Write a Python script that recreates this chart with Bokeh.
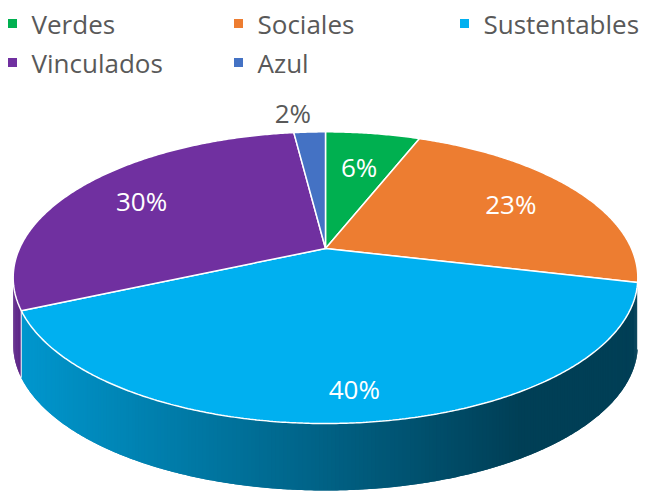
import numpy as np
from bokeh.plotting import figure
from bokeh.models import Range1d
from bokeh.embed import file_html
from bokeh.resources import INLINE
from bokeh.core.properties import value

# ---- data ----
categories = ["Verdes", "Sociales", "Sustentables", "Vinculados", "Azul"]
shares = [6, 23, 40, 30, 2]
labels = ["6%", "23%", "40%", "30%", "2%"]
colors = ["#00B050", "#ED7D31", "#00B0F0", "#7030A0", "#4472C4"]

# ---- layout / style ----
W, H = 649, 492
CX, CY, A, B, K, DEPTH = 325, 248, 306, 140, 0.2, 67
label_r = [0.67, 0.73, 0.84, 0.74, 1.2]
FONT = "Open Sans"

p = figure(width=W, height=H, x_range=Range1d(0, W), y_range=Range1d(H, 0),
           output_backend="svg", toolbar_location=None, min_border=0,
           x_axis_location=None, y_axis_location=None)
p.grid.visible = False
p.outline_line_color = None


def proj(theta, r=1.0):
    u = r * np.sin(theta)
    v = -r * np.cos(theta)
    d = 1 - K * v
    return CX + A * u / d, CY + B * v / d


def hex2rgb(h):
    h = h.lstrip("#")
    return [int(h[i:i + 2], 16) for i in (0, 2, 4)]


def shade(h, f):
    r, g, b = hex2rgb(h)
    return "#%02x%02x%02x" % tuple(int(max(0, min(255, c * f))) for c in (r, g, b))


fr = np.array(shares, dtype=float) / sum(shares)
ends = np.cumsum(fr) * 2 * np.pi
starts = ends - fr * 2 * np.pi

# ---- side (visible front part) ----
thR = np.arccos(-K)
thL = 2 * np.pi - thR
sx, sy, sc = [], [], []
edge_x, edge_y = [], []
step = np.radians(0.6)
for s, e, c in zip(starts, ends, colors):
    a0, a1 = max(s, thR), min(e, thL)
    if a1 <= a0:
        continue
    n = max(2, int((a1 - a0) / step) + 1)
    ths = np.linspace(a0, a1, n)
    for i in range(len(ths) - 1):
        ta = ths[i]
        tb = ths[min(i + 2, len(ths) - 1)]
        xm = proj(0.5 * (ths[i] + ths[i + 1]))[0]
        f = max(0.36, 0.86 - 0.5 * (xm - 20) / 500)
        col = shade(c, f)
        arc = np.linspace(ta, tb, 4)
        ax, ay = proj(arc)
        sx.append(list(ax) + list(ax[::-1]))
        sy.append(list(ay) + list(ay[::-1] + DEPTH))
        sc.append(col)
    for t in (s, e):
        if thR < t < thL:
            x0, y0 = proj(t)
            edge_x.append([x0, x0])
            edge_y.append([y0, y0 + DEPTH])

p.patches(sx, sy, fill_color=sc, line_color=None)
if edge_x:
    p.multi_line(edge_x, edge_y, line_color="white", line_width=1.0, line_alpha=0.6)

# ---- top slices ----
tx, ty = [], []
for s, e in zip(starts, ends):
    n = max(3, int((e - s) / np.radians(0.5)) + 1)
    ths = np.linspace(s, e, n)
    xs, ys = proj(ths)
    tx.append([CX] + list(xs))
    ty.append([CY] + list(ys))
p.patches(tx, ty, fill_color=colors, line_color="white", line_width=1.5)

# ---- data labels ----
for s, e, lab, r in zip(starts, ends, labels, label_r):
    m = 0.5 * (s + e)
    lx, ly = proj(m, r)
    outside = r > 1
    align = "center"
    if outside:
        align = "right" if np.sin(m) < 0 else "left"
        lx = lx + (4 if align == "right" else -4)
    p.text([lx], [ly], text=[lab], text_font=value(FONT), text_font_size="26px",
           text_color="#595959" if outside else "white",
           text_align=align, text_baseline="middle")

# ---- legend ----
leg_cols = [12, 238, 464]
leg_rows = [23, 62]
for i, (cat, c) in enumerate(zip(categories, colors)):
    lx = leg_cols[i % 3]
    ly = leg_rows[i // 3]
    p.rect([lx], [ly], width=9, height=9, fill_color=c, line_color=None)
    p.text([lx + 19], [ly], text=[cat], text_font=value(FONT), text_font_size="26px",
           text_color="#595959", text_align="left", text_baseline="middle")

open("out.html", "w").write(file_html(p, INLINE))
